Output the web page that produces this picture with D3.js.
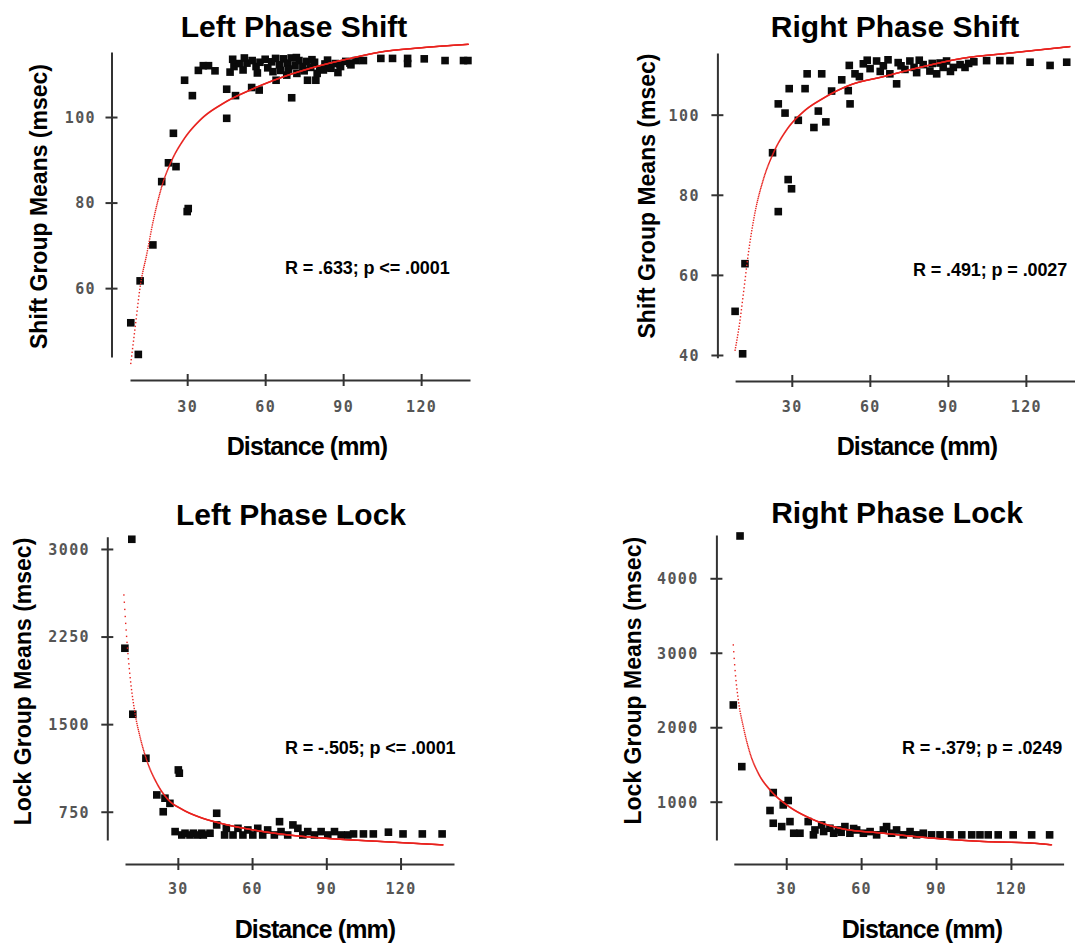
<!DOCTYPE html>
<html><head><meta charset="utf-8">
<script src="https://cdn.jsdelivr.net/npm/d3@7/dist/d3.min.js"></script>
<style>body{margin:0;background:#fff}</style>
</head><body>
<svg id="chart" width="1075" height="945"></svg>
<script>
// ---------- shared ----------
const distanceTicks = [30, 60, 90, 120];

// ---------- Left Phase Shift ----------
const leftShiftTicks = [60, 80, 100];
const leftShiftDist = [8.3,11.2,11.9,16.8,20.2,22.8,25.7,24.7,30.0,30.4,29.0,32.0,34.3,36.2,38.2,40.7,45.2,45.2,48.6,54.8,57.7,64.2,70.2,68.3,72.2,76.3,79.5,82.4,85.3,88.8,92.6,97.8,104.5,109.0,114.8,114.8,121.2,129.2,136.3,138.0,
  46.5,48,50,51.5,53,55,56.5,58,60,61,62.5,64,65.5,67,68.5,70,71.5,73,74.5,76,77.5,79,81,83,85,87,89,91,93,95,
  47.5,52,57,63,66,69,72,75,78,80,84,88];
const leftShiftMean = [51.9,44.5,61.7,70.1,84.9,89.3,88.4,96.2,77.9,78.6,108.6,105.0,110.9,112.0,112.0,110.8,99.7,106.5,105.0,106.9,106.3,108.6,104.5,109.8,110.2,108.6,108.6,111.0,111.4,112.2,112.6,113.2,113.7,113.7,113.7,112.5,113.6,113.2,113.2,113.2,
  110.5,111.8,112.5,111.0,112.6,113.2,111.8,112.8,113.5,111.5,112.9,113.7,112.2,113.6,112.6,113.8,112.0,113.2,111.8,113.0,111.6,112.8,111.2,112.4,111.6,112.5,111.8,113.0,112.2,113.2,
  113.5,113.8,110.3,110.6,110.9,111.2,113.9,110.8,113.4,110.2,113.3,110.4];
const leftShiftFitDist = [8.3,10.0,11.9,14.5,17.0,20.2,24.1,28.5,35.0,43.9,54.2,67.0,79.8,92.7,105.5,118.3,138.2];
const leftShiftFitMean = [42.4,50.9,60.3,68.1,75.9,83.7,89.9,94.6,99.3,103.2,106.3,109.4,111.8,113.7,115.3,116.1,117.0];

// ---------- Right Phase Shift ----------
const rightShiftTicks = [40, 60, 80, 100];
const rightShiftDist = [8.2,11.1,12.0,22.6,24.8,24.8,27.4,28.6,29.9,29.0,32.5,35.1,35.9,38.5,40.2,41.5,43.1,45.3,49.2,51.7,52.4,52.1,54.3,
  57.5,60.1,62.6,65.2,67.7,70.3,70.9,73.5,75.4,78.0,80.5,83.1,85.7,88.2,89.5,92.1,94.7,96.6,
  56,59,64,67,72,77,79,84,87,91,98,100,
  104.9,110.0,113.9,121.6,129.3,135.7];
const rightShiftMean = [50.9,40.3,62.8,90.5,75.8,102.7,100.4,83.8,81.5,106.5,98.6,106.5,110.2,96.8,100.9,110.2,98.2,105.9,108.7,106.0,102.7,112.3,110.2,
  112.7,111.5,113.4,112.2,110.2,107.7,113.0,111.3,113.4,110.5,112.5,110.9,110.2,111.8,113.4,111.8,112.5,111.8,
  109.5,113.6,110.8,113.7,112.2,111.8,113.6,112.8,112.9,110.8,112.8,113.2,
  113.5,113.5,113.5,113.1,112.3,113.1];
const rightShiftFitDist = [8.2,10.1,11.4,13.3,15.8,19.0,22.9,28.0,34.4,42.1,52.4,65.2,80.5,95.9,112.6,137.0];
const rightShiftFitMean = [41.2,48.7,55.4,65.4,75.4,83.7,90.4,96.2,100.7,104.1,107.4,109.5,112.0,114.1,115.3,117.0];

// ---------- Left Phase Lock ----------
const leftLockTicks = [750, 1500, 2250, 3000];
const leftLockDist = [11.4,8.6,11.8,17.1,30.2,30.6,21.5,24.8,24.1,26.8,28.9,31.6,32.9,34.9,36.3,37.9,39.7,40.3,43.0,45.7,45.7,
  48.9,49.6,52.3,54.3,56.3,58.3,60.3,62.3,64.3,66.3,69.0,71.1,71.7,74.4,76.5,78.5,80.5,82.5,85.2,87.9,90.6,93.3,96.0,98.7,
  101,105,109,115.1,121,128.8,136.8];
const leftLockMean = [3083,2150,1585,1208,1108,1080,894,866,750,822,580,551,566,551,566,551,566,551,566,737,637,
  551,608,551,608,551,594,551,608,551,594,551,665,580,551,637,608,551,580,551,580,551,580,551,551,
  560,560,560,575,560,560,560];
const leftLockFitDist = [8.2,9.3,10.7,12.7,14.7,17.4,21.5,26.2,31.6,39.0,47.1,60.5,74.0,90.2,113.1,137.3];
const leftLockFitMean = [2606,2249,1907,1593,1393,1193,994,851,772,702,652,594,553,522,494,466];

// ---------- Right Phase Lock ----------
const rightLockTicks = [1000, 2000, 3000, 4000];
const rightLockDist = [11.5,8.8,12.2,24.8,23.5,30.8,28.8,24.8,28.2,31.5,35.5,38.8,41.5,44.2,47.5,50.9,53.5,
  55.5,58.2,60.9,63.6,66.2,68.9,70.2,72.2,74.2,76.9,79.6,82.2,84.9,88.2,91.6,95.6,100.3,104.3,107.6,110.9,114.9,120.9,128.3,135.5,
  33,40.9,45,49,52,57];
const rightLockMean = [4568,2299,1471,1123,882,1016,957,711,666,733,577,733,621,688,644,621,666,
  577,621,577,599,555,621,666,577,621,555,599,555,577,555,555,555,555,555,555,555,555,555,555,555,
  577,555,600,577,590,640];
const rightLockFitDist = [8.8,9.5,10.8,12.8,15.5,18.8,23.5,30.2,39.5,51.5,68.9,88.9,108.9,129.0,136.3];
const rightLockFitMean = [3105,2769,2367,2008,1651,1383,1158,957,779,644,577,510,466,443,421];

// ---------- layout ----------
const panels = [
  { title: "Left Phase Shift", yLabel: "Shift Group Means (msec)", stat: "R = .633; p <= .0001",
    dist: leftShiftDist, mean: leftShiftMean, fitDist: leftShiftFitDist, fitMean: leftShiftFitMean, yTicks: leftShiftTicks,
    xDomain: [8, 138.8], xRange: [130, 470], yDomain: [43.9, 115.2], yRange: [357, 52],
    yAxisX: 111.5, xAxisY: 380, yLabOff: 15.5, xLabOff: 26.7,
    titleX: 294, titleY: 37, xLabX: 307, xLabY: 455, yLabX: 39, yLabY: 206.5, statX: 285, statY: 274 },
  { title: "Right Phase Shift", yLabel: "Shift Group Means (msec)", stat: "R = .491; p = .0027",
    dist: rightShiftDist, mean: rightShiftMean, fitDist: rightShiftFitDist, fitMean: rightShiftFitMean, yTicks: rightShiftTicks,
    xDomain: [8.2, 142], xRange: [735.1, 1083.1], yDomain: [39.3, 115.4], yRange: [357.8, 53],
    yAxisX: 717.4, xAxisY: 381, yLabOff: 17.5, xLabOff: 25.7,
    titleX: 895, titleY: 37, xLabX: 917, xLabY: 455, yLabX: 646.6, yLabY: 196, statX: 913, statY: 276 },
  { title: "Left Phase Lock", yLabel: "Lock Group Means (msec)", stat: "R = -.505; p <= .0001",
    dist: leftLockDist, mean: leftLockMean, fitDist: leftLockFitDist, fitMean: leftLockFitMean, yTicks: leftLockTicks,
    xDomain: [8.65, 141.6], xRange: [125, 454], yDomain: [508, 3105], yRange: [840, 536.7],
    yAxisX: 107.3, xAxisY: 864, yLabOff: 17.3, xLabOff: 24.3,
    titleX: 291, titleY: 525, xLabX: 315, xLabY: 938, yLabX: 22.5, yLabY: 681.5, statX: 285, statY: 754 },
  { title: "Right Phase Lock", yLabel: "Lock Group Means (msec)", stat: "R = -.379; p = .0249",
    dist: rightLockDist, mean: rightLockMean, fitDist: rightLockFitDist, fitMean: rightLockFitMean, yTicks: rightLockTicks,
    xDomain: [9.0, 141.1], xRange: [733.8, 1063.6], yDomain: [486, 4581], yRange: [840, 535],
    yAxisX: 716.4, xAxisY: 864, yLabOff: 17.7, xLabOff: 24.3,
    titleX: 897, titleY: 523, xLabX: 922, xLabY: 938, yLabX: 633, yLabY: 680.7, statX: 902, statY: 754 }
];

const svg = d3.select("#chart");
svg.append("rect").attr("width", 1075).attr("height", 945).attr("fill", "#fff");

const AXIS = "#333";
const tickFont = "'DejaVu Sans Mono', 'Liberation Mono', monospace";
const sansFont = "'Liberation Sans', Arial, Helvetica, sans-serif";

function drawFit(g, p, x, y) {
  const pts = p.fitDist.map((d, i) => [x(d), y(p.fitMean[i])]);
  const path = g.append("path")
    .attr("d", d3.line().curve(d3.curveMonotoneX)(pts))
    .attr("fill", "none").attr("stroke", "none");
  const node = path.node();
  const L = node.getTotalLength();
  const samples = [];
  for (let l = 0; l <= L; l += 0.25) samples.push(node.getPointAtLength(l));
  samples.push(node.getPointAtLength(L));
  const x0 = pts[0][0], x1 = pts[pts.length - 1][0];
  const dots = [];
  let j = 0;
  for (let px = x0; px <= x1; px += 0.45) {
    while (j < samples.length - 2 && samples[j + 1].x < px) j++;
    const a = samples[j], b = samples[j + 1];
    const t = (b.x === a.x) ? 0 : Math.max(0, Math.min(1, (px - a.x) / (b.x - a.x)));
    dots.push([px, a.y + t * (b.y - a.y)]);
  }
  g.append("g").selectAll("rect").data(dots).join("rect")
    .attr("x", d => d[0] - 0.7).attr("y", d => d[1] - 0.7)
    .attr("width", 1.4).attr("height", 1.4).attr("fill", "#e8231f");
}

panels.forEach(p => {
  const x = d3.scaleLinear().domain(p.xDomain).range(p.xRange);
  const y = d3.scaleLinear().domain(p.yDomain).range(p.yRange);
  const g = svg.append("g");

  // x axis
  const gx = g.append("g").attr("transform", `translate(0,${p.xAxisY})`)
    .call(d3.axisBottom(x).tickValues(distanceTicks).tickSizeOuter(0).tickSizeInner(6).tickFormat(d3.format("d")));
  gx.select(".domain").attr("stroke", AXIS).attr("stroke-width", 2);
  gx.selectAll(".tick line").attr("y1", -6).attr("y2", 6).attr("stroke", AXIS).attr("stroke-width", 2);
  gx.selectAll(".tick text").attr("y", p.xLabOff).attr("dy", "0.36em")
    .attr("font-family", tickFont).attr("font-weight", "bold").attr("font-size", 15)
    .attr("letter-spacing", 1.4).attr("fill", "#555");

  // y axis
  const gy = g.append("g").attr("transform", `translate(${p.yAxisX},0)`)
    .call(d3.axisLeft(y).tickValues(p.yTicks).tickSizeOuter(0).tickSizeInner(6).tickFormat(d3.format("d")));
  gy.select(".domain").attr("stroke", AXIS).attr("stroke-width", 2);
  gy.selectAll(".tick line").attr("x1", -6).attr("x2", 6).attr("stroke", AXIS).attr("stroke-width", 2);
  gy.selectAll(".tick text").attr("x", -p.yLabOff).attr("dy", "0.36em")
    .attr("font-family", tickFont).attr("font-weight", "bold").attr("font-size", 15)
    .attr("letter-spacing", 1.4).attr("fill", "#555");

  // points
  g.append("g").selectAll("rect").data(p.dist.map((d, i) => [d, p.mean[i]])).join("rect")
    .attr("x", d => x(d[0]) - 3.8).attr("y", d => y(d[1]) - 3.8)
    .attr("width", 7.6).attr("height", 7.6).attr("fill", "#0a0a0a");

  // fit curve
  drawFit(g, p, x, y);

  // title
  g.append("text").attr("x", p.titleX).attr("y", p.titleY).attr("text-anchor", "middle")
    .attr("font-family", sansFont).attr("font-weight", "bold").attr("font-size", 30)
    .attr("fill", "#000").text(p.title);

  // x label
  g.append("text").attr("x", p.xLabX).attr("y", p.xLabY).attr("text-anchor", "middle")
    .attr("font-family", sansFont).attr("font-weight", "bold").attr("font-size", 25)
    .attr("letter-spacing", -0.9).attr("fill", "#000").text("Distance (mm)");

  // y label
  g.append("text").attr("transform", `translate(${p.yLabX},${p.yLabY}) rotate(-90)`)
    .attr("text-anchor", "middle").attr("dy", "0.35em")
    .attr("font-family", sansFont).attr("font-weight", "bold").attr("font-size", 23)
    .attr("fill", "#000").text(p.yLabel);

  // stat annotation
  g.append("text").attr("x", p.statX).attr("y", p.statY)
    .attr("font-family", sansFont).attr("font-weight", "bold").attr("font-size", 18)
    .attr("letter-spacing", -0.1).attr("fill", "#000").text(p.stat);
});
</script>
</body></html>
